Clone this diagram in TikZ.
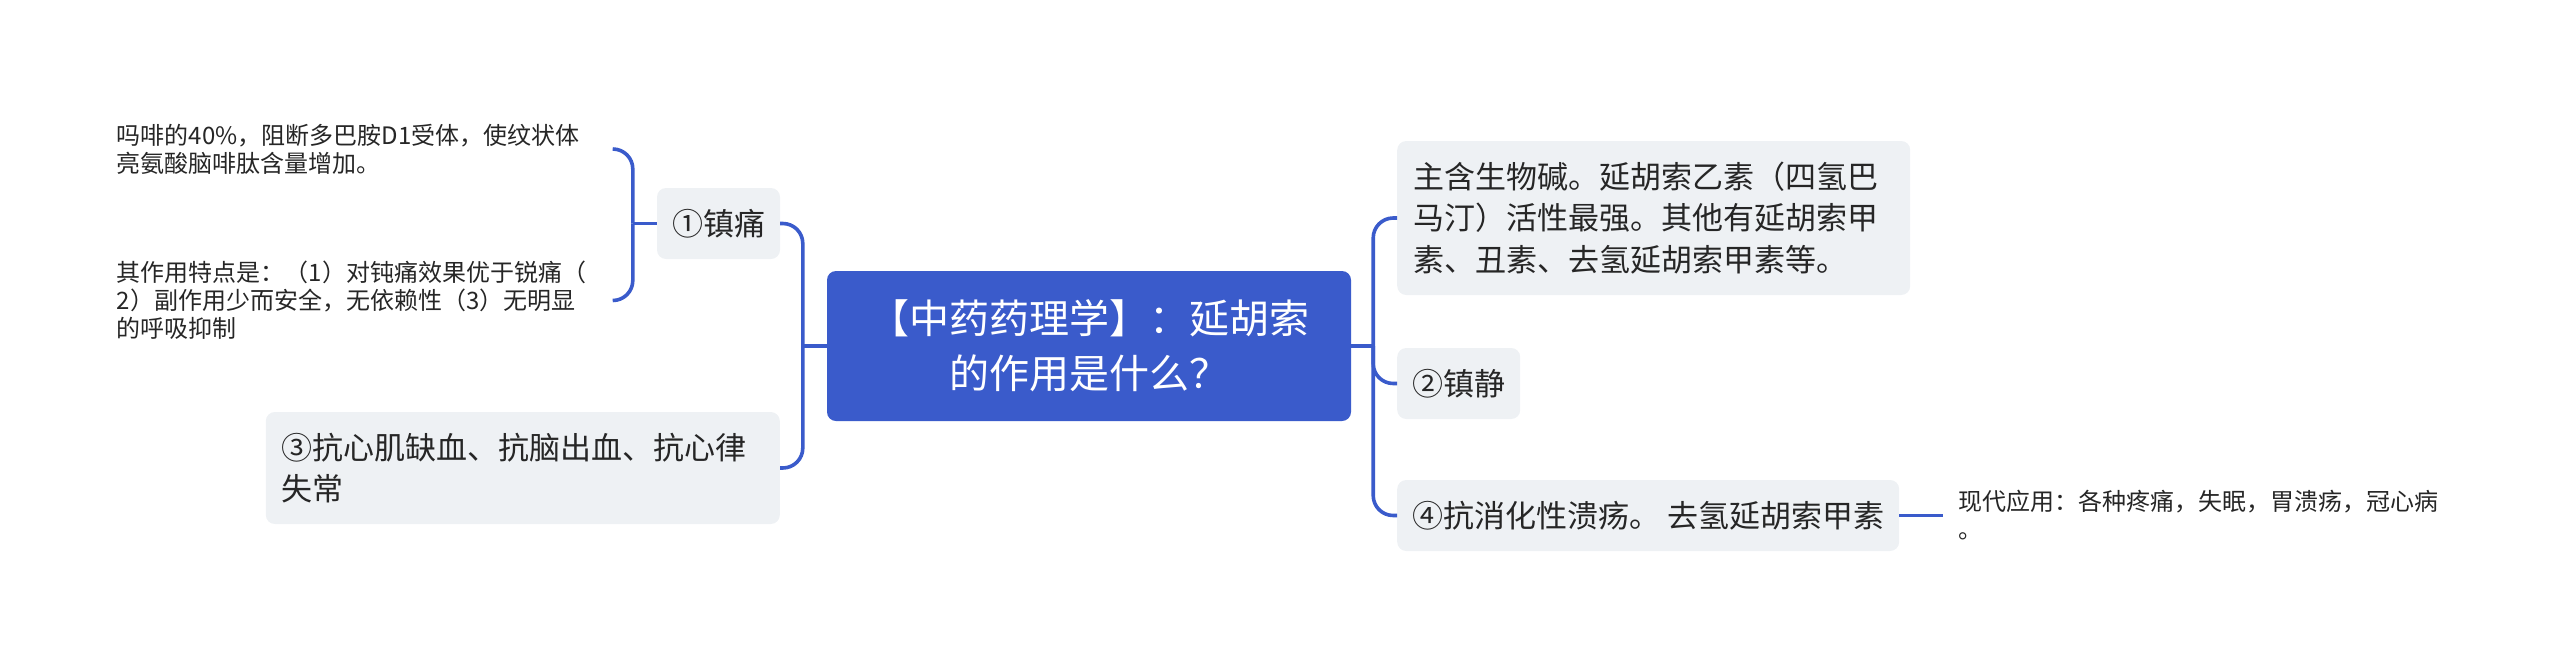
\documentclass[tikz,border=0pt]{standalone}
\usepackage{fontspec}
\newfontfamily\cjk{Noto Sans CJK SC}
\usepackage{tikz}
\usetikzlibrary{positioning}
\definecolor{mapblue}{RGB}{58,91,203}
\definecolor{topicgray}{RGB}{238,241,244}
\definecolor{ink}{RGB}{38,38,38}

\begin{document}
\begin{tikzpicture}[x=1pt, y=-1pt,
      root/.style={rectangle, rounded corners=9pt, fill=mapblue, text=white, font=\cjk\fontsize{40}{55}\selectfont, align=center, minimum width=524pt, minimum height=150pt, inner sep=0pt},
      topic/.style={rectangle, rounded corners=9pt, fill=topicgray, text=ink, font=\cjk\fontsize{31}{41.5}\selectfont, inner xsep=15pt, minimum height=71pt},
      note/.style={text=ink, font=\cjk\fontsize{24}{28}\selectfont, align=left, inner ysep=2pt},
      conn/.style={draw=mapblue, line width=3.6pt, rounded corners=20pt},
    ]
    \useasboundingbox (0,0) rectangle (2560,662);

    % Nodes
    \node[root] (cen) at (1089,346) {【中药药理学】：延胡索\\的作用是什么？};
    \node[topic] (zt) at (718.5,223.5) {①镇痛};
    \node[topic, text width=482pt, align=left, inner xsep=16pt, minimum height=112pt, anchor=east] (kx) at (780,468) {③抗心肌缺血、抗脑出血、抗心律\\失常};
    \node[topic, text width=481pt, align=left, inner xsep=16pt, minimum height=154pt, anchor=west] (zh) at (1397,218) {主含生物碱。延胡索乙素（四氢巴\\马汀）活性最强。其他有延胡索甲\\素、丑素、去氢延胡索甲素等。};
    \node[topic, anchor=west] (zj) at (1397,383.5) {②镇静};
    \node[topic, anchor=west] (yy) at (1397,515.5) {④抗消化性溃疡。 去氢延胡索甲素};

    \node[note, text width=470pt, inner xsep=26pt, anchor=east] (zt1) at (613,149) {吗啡的40\%，阻断多巴胺D1受体，使纹状体\\亮氨酸脑啡肽含量增加。};
    \node[note, text width=470pt, inner xsep=26pt, anchor=east] (zt2) at (613,300.5) {其作用特点是：（1）对钝痛效果优于锐痛（\\2）副作用少而安全，无依赖性（3）无明显\\的呼吸抑制};
    \node[note, text width=485pt, inner xsep=15pt] (yy1) [right=44pt of yy] {现代应用：各种疼痛，失眠，胃溃疡，冠心病\\。};

    % Junctions
    \coordinate (jl) at ([xshift=-24pt]cen.west);
    \coordinate (jr) at ([xshift=22pt]cen.east);
    \coordinate (jb) at ([xshift=-24pt]zt.west);

    % Connectors
    \draw[conn] (cen.west) -- (jl);
    \draw[conn] (zt.east) -| (jl);
    \draw[conn] (kx.east) -| (jl);
    \draw[conn] (cen.east) -- (jr);
    \draw[conn] (jr) |- (zh.west);
    \draw[conn] (jr) |- (zj.west);
    \draw[conn] (jr) |- (yy.west);
    \draw[conn] (zt.west) -- (jb);
    \draw[conn] (jb) |- (zt1.east);
    \draw[conn] (jb) |- (zt2.east);
    \draw[conn] (yy.east) -- (yy1.west);
  \end{tikzpicture}
\end{document}
